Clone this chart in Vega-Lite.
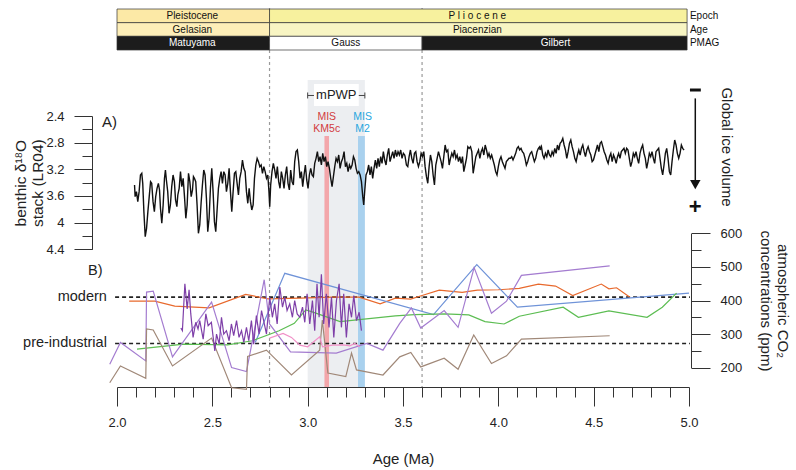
{
"$schema":"https://vega.github.io/schema/vega-lite/v6.json",
"width":572,"height":379,
"autosize":{"type":"none"},
"padding":{"left":117,"top":8,"right":107,"bottom":83},
"background":"white",
"config":{"font":"Liberation Sans","view":{"stroke":null},"axis":{"grid":false,"domainColor":"#333","tickColor":"#333","labelColor":"#222","titleColor":"#222","labelFontSize":13,"titleFontWeight":"normal","labelFont":"Liberation Sans","titleFont":"Liberation Sans","labelOverlap":false,"labelFlush":false},"text":{"font":"Liberation Sans"}},
"datasets":{
"lr04":[{"a":2.092,"d":3.435},{"a":2.095,"d":3.61},{"a":2.102,"d":3.535},{"a":2.109,"d":3.685},{"a":2.116,"d":3.535},{"a":2.123,"d":3.285},{"a":2.13,"d":3.26},{"a":2.135,"d":3.41},{"a":2.141,"d":3.835},{"a":2.148,"d":4.21},{"a":2.155,"d":4.085},{"a":2.162,"d":3.835},{"a":2.169,"d":3.61},{"a":2.176,"d":3.385},{"a":2.182,"d":3.41},{"a":2.189,"d":3.685},{"a":2.196,"d":3.835},{"a":2.203,"d":3.61},{"a":2.21,"d":3.485},{"a":2.217,"d":3.41},{"a":2.223,"d":3.51},{"a":2.228,"d":3.785},{"a":2.235,"d":4.01},{"a":2.242,"d":3.735},{"a":2.249,"d":3.335},{"a":2.254,"d":3.21},{"a":2.259,"d":3.36},{"a":2.266,"d":3.535},{"a":2.273,"d":3.86},{"a":2.28,"d":3.735},{"a":2.287,"d":3.46},{"a":2.294,"d":3.285},{"a":2.301,"d":3.385},{"a":2.307,"d":3.66},{"a":2.314,"d":3.76},{"a":2.319,"d":3.585},{"a":2.326,"d":3.485},{"a":2.333,"d":3.235},{"a":2.34,"d":3.46},{"a":2.347,"d":3.335},{"a":2.354,"d":3.61},{"a":2.361,"d":3.935},{"a":2.368,"d":3.735},{"a":2.375,"d":3.26},{"a":2.382,"d":3.385},{"a":2.389,"d":3.61},{"a":2.396,"d":3.51},{"a":2.401,"d":3.31},{"a":2.406,"d":3.335},{"a":2.413,"d":3.385},{"a":2.42,"d":3.735},{"a":2.427,"d":4.16},{"a":2.434,"d":4.035},{"a":2.441,"d":3.71},{"a":2.448,"d":3.435},{"a":2.455,"d":3.21},{"a":2.462,"d":3.285},{"a":2.469,"d":3.635},{"a":2.476,"d":4.135},{"a":2.483,"d":3.935},{"a":2.49,"d":3.485},{"a":2.497,"d":3.185},{"a":2.504,"d":3.535},{"a":2.511,"d":3.985},{"a":2.518,"d":4.135},{"a":2.525,"d":3.81},{"a":2.532,"d":3.485},{"a":2.539,"d":3.335},{"a":2.546,"d":3.235},{"a":2.553,"d":3.41},{"a":2.56,"d":3.235},{"a":2.567,"d":3.285},{"a":2.574,"d":3.535},{"a":2.581,"d":3.41},{"a":2.588,"d":3.185},{"a":2.595,"d":3.535},{"a":2.602,"d":3.835},{"a":2.609,"d":3.535},{"a":2.616,"d":3.26},{"a":2.623,"d":3.235},{"a":2.63,"d":3.41},{"a":2.637,"d":3.585},{"a":2.644,"d":3.335},{"a":2.651,"d":3.235},{"a":2.658,"d":3.06},{"a":2.665,"d":3.185},{"a":2.672,"d":3.235},{"a":2.679,"d":3.535},{"a":2.686,"d":3.71},{"a":2.693,"d":3.485},{"a":2.7,"d":3.685},{"a":2.707,"d":3.81},{"a":2.714,"d":3.735},{"a":2.721,"d":3.335},{"a":2.728,"d":3.135},{"a":2.735,"d":3.035},{"a":2.742,"d":3.085},{"a":2.749,"d":3.16},{"a":2.756,"d":3.135},{"a":2.763,"d":3.26},{"a":2.77,"d":3.16},{"a":2.777,"d":3.235},{"a":2.784,"d":3.335},{"a":2.791,"d":3.285},{"a":2.797,"d":3.535},{"a":2.801,"d":3.76},{"a":2.806,"d":3.435},{"a":2.813,"d":3.235},{"a":2.82,"d":3.11},{"a":2.827,"d":3.21},{"a":2.834,"d":3.335},{"a":2.841,"d":3.16},{"a":2.848,"d":3.385},{"a":2.855,"d":3.485},{"a":2.862,"d":3.235},{"a":2.869,"d":3.335},{"a":2.876,"d":3.485},{"a":2.883,"d":3.285},{"a":2.89,"d":3.16},{"a":2.897,"d":3.41},{"a":2.904,"d":3.51},{"a":2.911,"d":3.21},{"a":2.918,"d":3.385},{"a":2.925,"d":3.435},{"a":2.932,"d":3.085},{"a":2.939,"d":2.935},{"a":2.946,"d":2.91},{"a":2.953,"d":3.085},{"a":2.96,"d":3.335},{"a":2.967,"d":3.235},{"a":2.974,"d":3.46},{"a":2.981,"d":3.285},{"a":2.988,"d":3.135},{"a":2.995,"d":3.36},{"a":3.002,"d":3.485},{"a":3.009,"d":3.285},{"a":3.016,"d":3.185},{"a":3.023,"d":3.285},{"a":3.03,"d":3.31},{"a":3.037,"d":3.11},{"a":3.044,"d":3.035},{"a":3.051,"d":2.935},{"a":3.058,"d":3.085},{"a":3.065,"d":3.01},{"a":3.072,"d":3.135},{"a":3.079,"d":2.96},{"a":3.086,"d":3.085},{"a":3.093,"d":3.01},{"a":3.1,"d":3.16},{"a":3.107,"d":3.085},{"a":3.114,"d":3.185},{"a":3.121,"d":3.335},{"a":3.128,"d":3.46},{"a":3.135,"d":3.31},{"a":3.142,"d":3.16},{"a":3.149,"d":3.035},{"a":3.156,"d":3.085},{"a":3.163,"d":2.985},{"a":3.17,"d":3.185},{"a":3.177,"d":3.085},{"a":3.184,"d":3.035},{"a":3.191,"d":2.935},{"a":3.198,"d":3.16},{"a":3.205,"d":3.11},{"a":3.212,"d":3.235},{"a":3.219,"d":3.135},{"a":3.226,"d":3.185},{"a":3.233,"d":3.135},{"a":3.24,"d":3.01},{"a":3.247,"d":3.06},{"a":3.254,"d":3.185},{"a":3.261,"d":3.26},{"a":3.268,"d":3.235},{"a":3.275,"d":3.285},{"a":3.282,"d":3.385},{"a":3.289,"d":3.61},{"a":3.294,"d":3.735},{"a":3.299,"d":3.535},{"a":3.306,"d":3.285},{"a":3.313,"d":3.235},{"a":3.32,"d":3.135},{"a":3.327,"d":3.285},{"a":3.334,"d":3.16},{"a":3.341,"d":3.335},{"a":3.348,"d":3.185},{"a":3.355,"d":3.06},{"a":3.362,"d":3.185},{"a":3.369,"d":3.035},{"a":3.376,"d":3.16},{"a":3.383,"d":3.01},{"a":3.39,"d":3.11},{"a":3.397,"d":2.935},{"a":3.404,"d":3.06},{"a":3.411,"d":3.135},{"a":3.418,"d":2.985},{"a":3.425,"d":2.885},{"a":3.432,"d":3.085},{"a":3.439,"d":3.01},{"a":3.446,"d":2.935},{"a":3.453,"d":3.035},{"a":3.46,"d":2.91},{"a":3.467,"d":3.01},{"a":3.474,"d":2.935},{"a":3.481,"d":2.985},{"a":3.488,"d":2.91},{"a":3.495,"d":3.035},{"a":3.502,"d":2.96},{"a":3.509,"d":2.985},{"a":3.511,"d":3.01},{"a":3.518,"d":3.135},{"a":3.525,"d":3.16},{"a":3.532,"d":3.01},{"a":3.539,"d":2.91},{"a":3.546,"d":3.035},{"a":3.553,"d":3.11},{"a":3.56,"d":2.96},{"a":3.567,"d":2.935},{"a":3.574,"d":3.085},{"a":3.581,"d":3.16},{"a":3.588,"d":3.085},{"a":3.595,"d":2.96},{"a":3.602,"d":3.01},{"a":3.609,"d":2.935},{"a":3.616,"d":3.16},{"a":3.623,"d":3.31},{"a":3.63,"d":3.41},{"a":3.637,"d":3.16},{"a":3.644,"d":2.985},{"a":3.651,"d":3.085},{"a":3.658,"d":3.285},{"a":3.665,"d":3.435},{"a":3.672,"d":3.135},{"a":3.679,"d":3.035},{"a":3.686,"d":2.935},{"a":3.693,"d":3.01},{"a":3.7,"d":3.085},{"a":3.707,"d":3.185},{"a":3.714,"d":3.01},{"a":3.721,"d":2.835},{"a":3.728,"d":2.935},{"a":3.735,"d":2.91},{"a":3.742,"d":3.135},{"a":3.749,"d":3.035},{"a":3.756,"d":2.96},{"a":3.763,"d":3.01},{"a":3.77,"d":2.91},{"a":3.777,"d":3.035},{"a":3.784,"d":2.985},{"a":3.791,"d":3.085},{"a":3.798,"d":3.01},{"a":3.805,"d":3.11},{"a":3.812,"d":3.01},{"a":3.819,"d":3.235},{"a":3.826,"d":3.135},{"a":3.833,"d":3.035},{"a":3.84,"d":2.86},{"a":3.847,"d":2.885},{"a":3.854,"d":2.86},{"a":3.861,"d":2.935},{"a":3.868,"d":3.26},{"a":3.875,"d":3.135},{"a":3.882,"d":3.01},{"a":3.889,"d":2.96},{"a":3.896,"d":2.91},{"a":3.903,"d":3.035},{"a":3.91,"d":2.935},{"a":3.917,"d":2.885},{"a":3.924,"d":2.985},{"a":3.931,"d":2.835},{"a":3.938,"d":2.91},{"a":3.945,"d":3.01},{"a":3.951,"d":2.96},{"a":3.958,"d":3.035},{"a":3.965,"d":2.985},{"a":3.972,"d":3.06},{"a":3.979,"d":3.135},{"a":3.986,"d":3.235},{"a":3.993,"d":3.285},{"a":4.0,"d":3.16},{"a":4.007,"d":3.06},{"a":4.014,"d":3.01},{"a":4.021,"d":3.085},{"a":4.028,"d":3.135},{"a":4.035,"d":3.185},{"a":4.042,"d":3.085},{"a":4.049,"d":3.06},{"a":4.056,"d":3.035},{"a":4.063,"d":3.035},{"a":4.07,"d":3.01},{"a":4.077,"d":3.06},{"a":4.084,"d":3.01},{"a":4.091,"d":2.96},{"a":4.098,"d":2.885},{"a":4.105,"d":2.86},{"a":4.112,"d":2.91},{"a":4.119,"d":2.885},{"a":4.126,"d":2.935},{"a":4.133,"d":2.96},{"a":4.14,"d":3.035},{"a":4.147,"d":3.135},{"a":4.154,"d":3.085},{"a":4.161,"d":3.01},{"a":4.168,"d":2.96},{"a":4.175,"d":2.935},{"a":4.182,"d":3.01},{"a":4.189,"d":3.085},{"a":4.196,"d":3.035},{"a":4.203,"d":2.935},{"a":4.21,"d":2.885},{"a":4.217,"d":2.86},{"a":4.219,"d":2.91},{"a":4.226,"d":2.86},{"a":4.233,"d":2.985},{"a":4.24,"d":3.035},{"a":4.247,"d":2.96},{"a":4.254,"d":3.01},{"a":4.261,"d":2.91},{"a":4.268,"d":2.985},{"a":4.275,"d":3.01},{"a":4.282,"d":2.935},{"a":4.289,"d":2.985},{"a":4.296,"d":2.885},{"a":4.303,"d":2.96},{"a":4.31,"d":2.835},{"a":4.317,"d":2.91},{"a":4.324,"d":2.81},{"a":4.331,"d":2.785},{"a":4.338,"d":2.735},{"a":4.345,"d":2.835},{"a":4.352,"d":2.91},{"a":4.359,"d":3.035},{"a":4.366,"d":2.935},{"a":4.373,"d":2.81},{"a":4.38,"d":2.76},{"a":4.387,"d":2.86},{"a":4.394,"d":2.935},{"a":4.401,"d":3.035},{"a":4.408,"d":3.085},{"a":4.415,"d":2.985},{"a":4.422,"d":2.91},{"a":4.429,"d":2.985},{"a":4.436,"d":2.885},{"a":4.443,"d":2.835},{"a":4.45,"d":2.935},{"a":4.457,"d":3.01},{"a":4.464,"d":2.91},{"a":4.471,"d":2.86},{"a":4.478,"d":2.935},{"a":4.485,"d":2.985},{"a":4.492,"d":3.085},{"a":4.499,"d":3.06},{"a":4.506,"d":2.985},{"a":4.513,"d":2.91},{"a":4.52,"d":2.835},{"a":4.527,"d":2.935},{"a":4.534,"d":2.81},{"a":4.541,"d":2.785},{"a":4.548,"d":2.86},{"a":4.555,"d":2.935},{"a":4.562,"d":2.985},{"a":4.569,"d":3.06},{"a":4.576,"d":3.11},{"a":4.583,"d":3.01},{"a":4.59,"d":2.96},{"a":4.597,"d":3.085},{"a":4.604,"d":2.985},{"a":4.611,"d":3.035},{"a":4.618,"d":3.11},{"a":4.625,"d":3.01},{"a":4.631,"d":2.96},{"a":4.638,"d":3.035},{"a":4.645,"d":2.935},{"a":4.652,"d":2.91},{"a":4.659,"d":2.885},{"a":4.666,"d":2.96},{"a":4.673,"d":2.885},{"a":4.68,"d":2.91},{"a":4.687,"d":3.035},{"a":4.694,"d":3.16},{"a":4.701,"d":3.085},{"a":4.708,"d":2.96},{"a":4.715,"d":3.01},{"a":4.722,"d":2.935},{"a":4.729,"d":3.035},{"a":4.736,"d":3.11},{"a":4.743,"d":2.96},{"a":4.75,"d":2.885},{"a":4.757,"d":2.835},{"a":4.764,"d":2.96},{"a":4.771,"d":3.035},{"a":4.778,"d":3.185},{"a":4.785,"d":3.085},{"a":4.792,"d":2.96},{"a":4.799,"d":3.01},{"a":4.806,"d":2.935},{"a":4.813,"d":3.035},{"a":4.82,"d":3.11},{"a":4.827,"d":2.935},{"a":4.834,"d":2.91},{"a":4.841,"d":2.885},{"a":4.848,"d":3.035},{"a":4.855,"d":3.185},{"a":4.862,"d":3.285},{"a":4.869,"d":3.135},{"a":4.876,"d":2.96},{"a":4.883,"d":2.885},{"a":4.89,"d":3.035},{"a":4.897,"d":3.235},{"a":4.904,"d":3.285},{"a":4.911,"d":3.085},{"a":4.918,"d":2.91},{"a":4.925,"d":2.76},{"a":4.932,"d":2.835},{"a":4.939,"d":2.96},{"a":4.946,"d":3.035},{"a":4.953,"d":2.96},{"a":4.96,"d":2.835},{"a":4.967,"d":2.885},{"a":4.974,"d":2.91}],
"co2":[
{"s":"o","a":2.064,"p":398},{"s":"o","a":2.198,"p":398},{"s":"o","a":2.303,"p":383},{"s":"o","a":2.483,"p":378},{"s":"o","a":2.675,"p":418},{"s":"o","a":2.792,"p":405},{"s":"o","a":2.96,"p":407},{"s":"o","a":3.13,"p":410},{"s":"o","a":3.27,"p":410},{"s":"o","a":3.38,"p":390},{"s":"o","a":3.46,"p":407},{"s":"o","a":3.54,"p":404},{"s":"o","a":3.6,"p":415},{"s":"o","a":3.69,"p":431},{"s":"o","a":3.81,"p":424},{"s":"o","a":3.89,"p":431},{"s":"o","a":4.0,"p":432},{"s":"o","a":4.11,"p":436},{"s":"o","a":4.21,"p":449},{"s":"o","a":4.3,"p":443},{"s":"o","a":4.39,"p":415},{"s":"o","a":4.54,"p":449},{"s":"o","a":4.58,"p":435},{"s":"o","a":4.62,"p":438},{"s":"o","a":4.69,"p":410},
{"s":"b","a":2.725,"p":275},{"s":"b","a":2.88,"p":481},{"s":"b","a":3.66,"p":358},{"s":"b","a":3.887,"p":507},{"s":"b","a":4.1,"p":380},{"s":"b","a":5.0,"p":422},
{"s":"g","a":2.105,"p":255},{"s":"g","a":2.35,"p":270},{"s":"g","a":2.58,"p":268},{"s":"g","a":2.71,"p":280},{"s":"g","a":2.85,"p":310},{"s":"g","a":2.93,"p":332},{"s":"g","a":2.99,"p":372},{"s":"g","a":3.02,"p":367},{"s":"g","a":3.17,"p":337},{"s":"g","a":3.46,"p":354},{"s":"g","a":3.56,"p":358},{"s":"g","a":3.72,"p":360},{"s":"g","a":3.845,"p":357},{"s":"g","a":3.93,"p":337},{"s":"g","a":4.03,"p":330},{"s":"g","a":4.11,"p":353},{"s":"g","a":4.34,"p":380},{"s":"g","a":4.42,"p":350},{"s":"g","a":4.58,"p":369},{"s":"g","a":4.78,"p":350},{"s":"g","a":4.86,"p":380},{"s":"g","a":4.935,"p":422},
{"s":"l","a":1.962,"p":210},{"s":"l","a":2.018,"p":275},{"s":"l","a":2.151,"p":220},{"s":"l","a":2.155,"p":425},{"s":"l","a":2.19,"p":428},{"s":"l","a":2.291,"p":232},{"s":"l","a":2.496,"p":395},{"s":"l","a":2.601,"p":200},{"s":"l","a":2.679,"p":188},{"s":"l","a":2.772,"p":462},{"s":"l","a":2.8,"p":330},{"s":"l","a":2.91,"p":247},{"s":"l","a":3.15,"p":243},{"s":"l","a":3.31,"p":272},{"s":"l","a":3.395,"p":252},{"s":"l","a":3.483,"p":332},{"s":"l","a":3.544,"p":378},{"s":"l","a":3.593,"p":318},{"s":"l","a":3.716,"p":370},{"s":"l","a":3.789,"p":320},{"s":"l","a":3.873,"p":498},{"s":"l","a":3.964,"p":362},{"s":"l","a":4.043,"p":398},{"s":"l","a":4.121,"p":475},{"s":"l","a":4.584,"p":503},
{"s":"w","a":1.962,"p":155},{"s":"w","a":2.018,"p":205},{"s":"w","a":2.151,"p":168},{"s":"w","a":2.155,"p":315},{"s":"w","a":2.19,"p":312},{"s":"w","a":2.291,"p":205},{"s":"w","a":2.496,"p":288},{"s":"w","a":2.601,"p":140},{"s":"w","a":2.679,"p":135},{"s":"w","a":2.685,"p":233},{"s":"w","a":2.784,"p":252},{"s":"w","a":2.915,"p":178},{"s":"w","a":3.063,"p":252},{"s":"w","a":3.077,"p":342},{"s":"w","a":3.106,"p":184},{"s":"w","a":3.2,"p":173},{"s":"w","a":3.23,"p":243},{"s":"w","a":3.256,"p":193},{"s":"w","a":3.395,"p":178},{"s":"w","a":3.483,"p":232},{"s":"w","a":3.541,"p":245},{"s":"w","a":3.593,"p":202},{"s":"w","a":3.716,"p":228},{"s":"w","a":3.789,"p":195},{"s":"w","a":3.871,"p":297},{"s":"w","a":3.964,"p":212},{"s":"w","a":4.043,"p":235},{"s":"w","a":4.121,"p":285},{"s":"w","a":4.584,"p":295},
{"s":"k","a":2.8,"p":288},{"s":"k","a":2.871,"p":302},{"s":"k","a":2.915,"p":290},{"s":"k","a":2.959,"p":267},{"s":"k","a":3.0,"p":262},{"s":"k","a":3.063,"p":292},{"s":"k","a":3.078,"p":262},{"s":"k","a":3.13,"p":267},{"s":"k","a":3.186,"p":268},{"s":"k","a":3.221,"p":265},{"s":"k","a":3.247,"p":272},{"s":"k","a":3.273,"p":262},
{"s":"p","a":2.335,"p":318},{"s":"p","a":2.343,"p":310},{"s":"p","a":2.356,"p":450},{"s":"p","a":2.368,"p":375},{"s":"p","a":2.378,"p":432},{"s":"p","a":2.387,"p":360},{"s":"p","a":2.399,"p":290},{"s":"p","a":2.413,"p":335},{"s":"p","a":2.425,"p":315},{"s":"p","a":2.434,"p":340},{"s":"p","a":2.452,"p":285},{"s":"p","a":2.466,"p":360},{"s":"p","a":2.478,"p":325},{"s":"p","a":2.495,"p":335},{"s":"p","a":2.513,"p":250},{"s":"p","a":2.522,"p":300},{"s":"p","a":2.536,"p":270},{"s":"p","a":2.548,"p":350},{"s":"p","a":2.56,"p":300},{"s":"p","a":2.574,"p":310},{"s":"p","a":2.588,"p":280},{"s":"p","a":2.6,"p":330},{"s":"p","a":2.612,"p":295},{"s":"p","a":2.627,"p":340},{"s":"p","a":2.64,"p":290},{"s":"p","a":2.653,"p":310},{"s":"p","a":2.665,"p":275},{"s":"p","a":2.679,"p":320},{"s":"p","a":2.691,"p":280},{"s":"p","a":2.705,"p":340},{"s":"p","a":2.717,"p":270},{"s":"p","a":2.731,"p":355},{"s":"p","a":2.745,"p":300},{"s":"p","a":2.758,"p":370},{"s":"p","a":2.784,"p":300},{"s":"p","a":2.801,"p":410},{"s":"p","a":2.815,"p":350},{"s":"p","a":2.827,"p":390},{"s":"p","a":2.84,"p":330},{"s":"p","a":2.854,"p":440},{"s":"p","a":2.868,"p":380},{"s":"p","a":2.88,"p":410},{"s":"p","a":2.892,"p":370},{"s":"p","a":2.906,"p":390},{"s":"p","a":2.92,"p":350},{"s":"p","a":2.932,"p":400},{"s":"p","a":2.945,"p":360},{"s":"p","a":2.959,"p":350},{"s":"p","a":2.973,"p":380},{"s":"p","a":2.985,"p":335},{"s":"p","a":2.997,"p":420},{"s":"p","a":3.011,"p":330},{"s":"p","a":3.025,"p":400},{"s":"p","a":3.037,"p":310},{"s":"p","a":3.049,"p":450},{"s":"p","a":3.06,"p":350},{"s":"p","a":3.072,"p":478},{"s":"p","a":3.084,"p":330},{"s":"p","a":3.098,"p":420},{"s":"p","a":3.112,"p":320},{"s":"p","a":3.125,"p":410},{"s":"p","a":3.137,"p":290},{"s":"p","a":3.151,"p":400},{"s":"p","a":3.165,"p":450},{"s":"p","a":3.177,"p":320},{"s":"p","a":3.189,"p":420},{"s":"p","a":3.203,"p":290},{"s":"p","a":3.217,"p":390},{"s":"p","a":3.23,"p":350},{"s":"p","a":3.242,"p":415},{"s":"p","a":3.256,"p":340},{"s":"p","a":3.27,"p":365},{"s":"p","a":3.282,"p":310}],
"ts":[{"row":"Epoch","lab":"Pleistocene","t":"Pleistocene","a":2.0,"a2":2.8,"c":2.395},{"row":"Epoch","lab":"Pliocene","t":"P l i o c e n e","a":2.8,"a2":4.99,"c":3.89},{"row":"Age","lab":"Gelasian","t":"Gelasian","a":2.0,"a2":2.8,"c":2.395},{"row":"Age","lab":"Piacenzian","t":"Piacenzian","a":2.8,"a2":4.99,"c":3.89},{"row":"PMAG","lab":"Matuyama","t":"Matuyama","a":2.0,"a2":2.8,"c":2.395},{"row":"PMAG","lab":"Gauss","t":"Gauss","a":2.8,"a2":3.6,"c":3.2},{"row":"PMAG","lab":"Gilbert","t":"Gilbert","a":3.6,"a2":4.99,"c":4.3}]
},
"layer":[
{"data":{"values":[{"a":2.8},{"a":3.6}]},"mark":{"type":"rule","stroke":"#9a9a9a","strokeDash":[3,3],"strokeWidth":1.2},
 "encoding":{"x":{"field":"a","type":"quantitative","scale":{"domain":[2,5],"nice":false},
  "axis":{"orient":"bottom","title":"Age (Ma)","values":[2,2.5,3,3.5,4,4.5,5],"format":".1f","tickSize":19,
   "labelPadding":10,"labelFontSize":13,"titleFontSize":15,"titlePadding":22}}}},
{"data":{"values":[{"a":3.0,"a2":3.3,"d":1.86,"d2":6.466}]},"mark":{"type":"rect","fill":"#eceef1"},
 "encoding":{"x":{"field":"a","type":"quantitative","scale":{"domain":[2,5],"nice":false},
   "axis":{"orient":"bottom","values":[2.1,2.2,2.3,2.4,2.6,2.7,2.8,2.9,3.1,3.2,3.3,3.4,3.6,3.7,3.8,3.9,4.1,4.2,4.3,4.4,4.6,4.7,4.8,4.9],"tickSize":10,"labels":false,"domain":false,"title":null}},"x2":{"field":"a2"},
  "y":{"field":"d","type":"quantitative","scale":{"domain":[2.4,4.4],"range":[108,241.3],"zero":false,"nice":false},
   "axis":{"orient":"left","offset":25,"values":[2.6,3.0,3.4,3.8,4.2],"tickSize":10,"labels":false,"domain":false,"title":null}},"y2":{"field":"d2"}}},
{"data":{"values":[{"a":3.088,"a2":3.112,"d":2.7,"d2":6.466,"m":"KM5c"},{"a":3.264,"a2":3.3,"d":2.7,"d2":6.466,"m":"M2"}]},"mark":{"type":"rect"},
 "encoding":{"x":{"field":"a","type":"quantitative","scale":{"domain":[2,5],"nice":false},"axis":null},"x2":{"field":"a2"},
  "y":{"field":"d","type":"quantitative","scale":{"domain":[2.4,4.4],"range":[108,241.3],"zero":false,"nice":false},"axis":null},"y2":{"field":"d2"},
  "color":{"field":"m","type":"nominal","scale":{"domain":["KM5c","M2"],"range":["#f3a6aa","#a9d1ee"]},"legend":null}}},
{"data":{"values":[{"a":1.99,"a2":5.005,"p":410},{"a":1.99,"a2":5.005,"p":272}]},"mark":{"type":"rule","stroke":"#222","strokeDash":[4,3],"strokeWidth":1.6},
 "encoding":{"x":{"field":"a","type":"quantitative","scale":{"domain":[2,5],"nice":false},"axis":null},"x2":{"field":"a2"},
  "y":{"field":"p","type":"quantitative","scale":{"domain":[200,600],"range":[359.6,225.4],"zero":false,"nice":false},
   "axis":{"orient":"right","offset":2,"values":[250,350,450,550],"tickSize":10,"labels":false,"domain":false,"title":null}}}},
{"data":{"name":"co2"},"mark":{"type":"line","strokeWidth":1.2},
 "encoding":{"x":{"field":"a","type":"quantitative","scale":{"domain":[2,5],"nice":false},"axis":null},
  "y":{"field":"p","type":"quantitative","scale":{"domain":[200,600],"range":[359.6,225.4],"zero":false,"nice":false},
   "axis":{"orient":"right","offset":2,"values":[200,300,400,500,600],"tickSize":19,"labelPadding":10,"labelFontSize":13,
    "title":["atmospheric CO₂","concentrations (ppm)"],"titleFontSize":15,"titlePadding":16,"titleLineHeight":17}},
  "color":{"field":"s","type":"nominal","scale":{"domain":["o","b","g","l","w","k","p"],"range":["#e8692d","#6f93d8","#5cbd52","#a47cd0","#a08878","#f191c8","#7e3fa8"]},"legend":null}}},
{"data":{"name":"lr04"},"mark":{"type":"line","stroke":"#111","strokeWidth":1.4},
 "encoding":{"x":{"field":"a","type":"quantitative","scale":{"domain":[2,5],"nice":false},"axis":null},
  "y":{"field":"d","type":"quantitative","scale":{"domain":[2.4,4.4],"range":[108,241.3],"zero":false,"nice":false},
   "axis":{"orient":"left","offset":25,"values":[2.4,2.8,3.2,3.6,4,4.4],"tickSize":18,"labelExpr":"''+datum.value","labelPadding":10,"labelFontSize":13,
    "title":["benthic δ¹⁸O","stack (LR04)"],"titleFontSize":15.5,"titlePadding":0,"titleLineHeight":17}}}},
{"data":{"name":"ts"},"mark":{"type":"rect","stroke":"#333","strokeWidth":0.7},
 "encoding":{"x":{"field":"a","type":"quantitative","scale":{"domain":[2,5],"nice":false},"axis":null},"x2":{"field":"a2"},
  "y":{"field":"row","type":"nominal","scale":{"domain":["Epoch","Age","PMAG"],"range":[1,42],"paddingInner":0,"paddingOuter":0},"axis":null},
  "color":{"field":"lab","type":"nominal","scale":{"domain":["Pleistocene","Pliocene","Gelasian","Piacenzian","Matuyama","Gauss","Gilbert"],"range":["#fce9a6","#f7f19e","#fdeeb8","#f8f5c3","#1c1c1c","#ffffff","#1c1c1c"]},"legend":null}}},
{"data":{"name":"ts"},"mark":{"type":"text","fontSize":10,"baseline":"middle"},
 "encoding":{"x":{"field":"c","type":"quantitative","scale":{"domain":[2,5],"nice":false},"axis":null},
  "y":{"field":"row","type":"nominal","scale":{"domain":["Epoch","Age","PMAG"],"range":[1,42],"paddingInner":0,"paddingOuter":0},"axis":null},
  "text":{"field":"t"},
  "color":{"condition":{"test":"datum.lab==='Matuyama'||datum.lab==='Gilbert'","value":"#ffffff"},"value":"#111"}}},
{"data":{"values":[{"row":"Epoch","a":5.005},{"row":"Age","a":5.005},{"row":"PMAG","a":5.005}]},"mark":{"type":"text","fontSize":10,"align":"left","baseline":"middle","color":"#111"},
 "encoding":{"x":{"field":"a","type":"quantitative","scale":{"domain":[2,5],"nice":false},"axis":null},
  "y":{"field":"row","type":"nominal","scale":{"domain":["Epoch","Age","PMAG"],"range":[1,42],"paddingInner":0,"paddingOuter":0},"axis":null},
  "text":{"field":"row"}}},
{"data":{"values":[{"a":3.0,"a2":3.3,"d":2.092}]},"mark":{"type":"rule","stroke":"#444","strokeWidth":1},
 "encoding":{"x":{"field":"a","type":"quantitative","scale":{"domain":[2,5],"nice":false},"axis":null},"x2":{"field":"a2"},
  "y":{"field":"d","type":"quantitative","scale":{"domain":[2.4,4.4],"range":[108,241.3],"zero":false,"nice":false},"axis":null}}},
{"data":{"values":[{"a":3.0,"d":2.047,"d2":2.137},{"a":3.3,"d":2.047,"d2":2.137}]},"mark":{"type":"rule","stroke":"#444","strokeWidth":1},
 "encoding":{"x":{"field":"a","type":"quantitative","scale":{"domain":[2,5],"nice":false},"axis":null},
  "y":{"field":"d","type":"quantitative","scale":{"domain":[2.4,4.4],"range":[108,241.3],"zero":false,"nice":false},"axis":null},"y2":{"field":"d2"}}},
{"data":{"values":[{"a":3.033,"a2":3.268,"d":1.92,"d2":2.25}]},"mark":{"type":"rect","fill":"#ffffff"},
 "encoding":{"x":{"field":"a","type":"quantitative","scale":{"domain":[2,5],"nice":false},"axis":null},"x2":{"field":"a2"},
  "y":{"field":"d","type":"quantitative","scale":{"domain":[2.4,4.4],"range":[108,241.3],"zero":false,"nice":false},"axis":null},"y2":{"field":"d2"}}},
{"data":{"values":[{"a":3.15,"d":2.092,"t":"mPWP"}]},"mark":{"type":"text","fontSize":13,"baseline":"middle","color":"#222"},
 "encoding":{"x":{"field":"a","type":"quantitative","scale":{"domain":[2,5],"nice":false},"axis":null},
  "y":{"field":"d","type":"quantitative","scale":{"domain":[2.4,4.4],"range":[108,241.3],"zero":false,"nice":false},"axis":null},"text":{"field":"t"}}},
{"data":{"values":[{"a":3.1,"d":2.41,"t":"MIS","m":"KM5c"},{"a":3.1,"d":2.595,"t":"KM5c","m":"KM5c"},{"a":3.288,"d":2.41,"t":"MIS","m":"M2"},{"a":3.288,"d":2.595,"t":"M2","m":"M2"}]},
 "mark":{"type":"text","fontSize":10.5,"baseline":"middle"},
 "encoding":{"x":{"field":"a","type":"quantitative","scale":{"domain":[2,5],"nice":false},"axis":null},
  "y":{"field":"d","type":"quantitative","scale":{"domain":[2.4,4.4],"range":[108,241.3],"zero":false,"nice":false},"axis":null},"text":{"field":"t"},
  "color":{"field":"m","type":"nominal","scale":{"domain":["KM5c","M2"],"range":["#d23c40","#27a7df"]},"legend":null}}},
{"data":{"values":[{"a":5.198,"d":2.865,"t":"Global ice volume"}]},"mark":{"type":"text","fontSize":15,"angle":90,"baseline":"middle","color":"#222"},
 "encoding":{"x":{"field":"a","type":"quantitative","scale":{"domain":[2,5],"nice":false},"axis":null},
  "y":{"field":"d","type":"quantitative","scale":{"domain":[2.4,4.4],"range":[108,241.3],"zero":false,"nice":false},"axis":null},"text":{"field":"t"}}},
{"data":{"values":[{"a":5.033,"d":2.136,"d2":3.38}]},"mark":{"type":"rule","stroke":"#111","strokeWidth":1.5},
 "encoding":{"x":{"field":"a","type":"quantitative","scale":{"domain":[2,5],"nice":false},"axis":null},
  "y":{"field":"d","type":"quantitative","scale":{"domain":[2.4,4.4],"range":[108,241.3],"zero":false,"nice":false},"axis":null},"y2":{"field":"d2"}}},
{"data":{"values":[{"a":5.033,"d":3.43}]},"mark":{"type":"point","shape":"triangle-down","filled":true,"size":110,"color":"#111","opacity":1},
 "encoding":{"x":{"field":"a","type":"quantitative","scale":{"domain":[2,5],"nice":false},"axis":null},
  "y":{"field":"d","type":"quantitative","scale":{"domain":[2.4,4.4],"range":[108,241.3],"zero":false,"nice":false},"axis":null}}},
{"data":{"values":[{"a":5.005,"a2":5.062,"d":2.01}]},"mark":{"type":"rule","stroke":"#111","strokeWidth":3},
 "encoding":{"x":{"field":"a","type":"quantitative","scale":{"domain":[2,5],"nice":false},"axis":null},"x2":{"field":"a2"},
  "y":{"field":"d","type":"quantitative","scale":{"domain":[2.4,4.4],"range":[108,241.3],"zero":false,"nice":false},"axis":null}}},
{"data":{"values":[{"a":5.033,"d":3.771,"t":"+"}]},"mark":{"type":"text","fontSize":22,"fontWeight":"bold","baseline":"middle","color":"#111"},
 "encoding":{"x":{"field":"a","type":"quantitative","scale":{"domain":[2,5],"nice":false},"axis":null},
  "y":{"field":"d","type":"quantitative","scale":{"domain":[2.4,4.4],"range":[108,241.3],"zero":false,"nice":false},"axis":null},"text":{"field":"t"}}},
{"data":{"values":[{"a":1.921,"d":2.49,"t":"A)"}]},"mark":{"type":"text","fontSize":15,"align":"left","baseline":"middle","color":"#222"},
 "encoding":{"x":{"field":"a","type":"quantitative","scale":{"domain":[2,5],"nice":false},"axis":null},
  "y":{"field":"d","type":"quantitative","scale":{"domain":[2.4,4.4],"range":[108,241.3],"zero":false,"nice":false},"axis":null},"text":{"field":"t"}}},
{"data":{"values":[{"a":1.924,"p":489,"t":"B)"},{"a":1.947,"p":410,"t":"modern"},{"a":1.947,"p":272,"t":"pre-industrial"}]},
 "mark":{"type":"text","fontSize":14.5,"baseline":"middle","color":"#222","align":"right"},
 "encoding":{"x":{"field":"a","type":"quantitative","scale":{"domain":[2,5],"nice":false},"axis":null},
  "y":{"field":"p","type":"quantitative","scale":{"domain":[200,600],"range":[359.6,225.4],"zero":false,"nice":false},"axis":null},"text":{"field":"t"},
  "align":{"condition":{"test":"datum.t==='B)'","value":"left"},"value":"right"}}}
],
"resolve":{"scale":{"x":"independent","y":"independent","color":"independent"}}
}
